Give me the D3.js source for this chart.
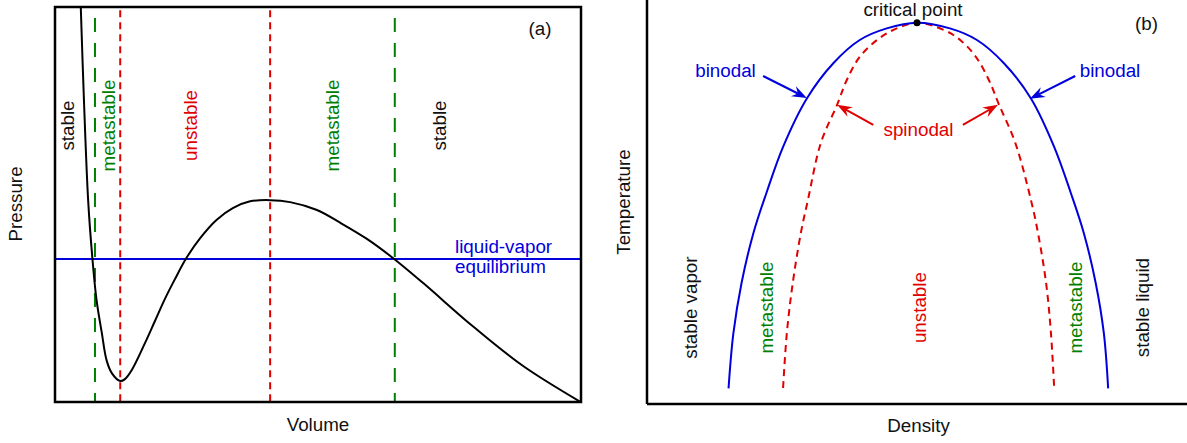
<!DOCTYPE html>
<html>
<head>
<meta charset="utf-8">
<script src="https://cdn.jsdelivr.net/npm/d3@7"></script>
<style>
  body { margin: 0; background: #fff; }
  text { font-family: "Liberation Sans", Arial, sans-serif; font-size: 18.8px; }
</style>
</head>
<body>
<div id="chart"></div>
<script>
// panel (a): van der waals isotherm, volume / pressure in arbitrary units
const isoVolume   = [0.49, 0.55, 0.63, 0.71, 0.79, 0.89, 0.98, 1.08, 1.24, 1.33, 1.46, 1.71, 1.90, 2.09, 2.28, 2.50, 2.76, 3.07, 3.38, 3.71, 4.09, 4.47, 4.98, 5.42, 5.93, 6.43, 7.00, 7.95, 8.90, 9.98];
const isoPressure = [10.0, 7.65, 5.11, 3.65, 2.58, 1.75, 1.06, 0.73, 0.53, 0.58, 0.81, 1.49, 2.05, 2.61, 3.11, 3.65, 4.15, 4.61, 4.91, 5.08, 5.11, 5.06, 4.86, 4.54, 4.13, 3.64, 3.01, 1.91, 0.91, 0.01];
const equilibriumPressure = 3.62;
const binodalVolumes  = [0.76, 6.46];
const spinodalVolumes = [1.24, 4.09];
const regionLabelsA = ["stable", "metastable", "unstable", "metastable", "stable"];
const regionVolumesA = [0.24, 1.02, 2.57, 5.28, 7.30];
const regionColorsA = ["black", "green", "red", "green", "black"];

// panel (b): coexistence curve, density / temperature in arbitrary units
const binodalDensity = [1.51, 1.60, 1.75, 1.97, 2.21, 2.52, 2.96, 3.45, 3.94, 4.44, 5.00, 5.61, 6.11, 6.61, 7.11, 7.54, 7.85, 8.09, 8.31, 8.46, 8.54];
const binodalTemp    = [0.39, 1.77, 3.02, 4.27, 5.27, 6.43, 7.64, 8.52, 9.10, 9.39, 9.53, 9.39, 9.10, 8.52, 7.64, 6.43, 5.27, 4.27, 3.02, 1.77, 0.39];
const spinodalDensity = [2.52, 2.59, 2.70, 2.85, 2.98, 3.22, 3.52, 3.70, 3.94, 4.26, 4.56, 5.00, 5.50, 5.80, 6.09, 6.33, 6.52, 6.82, 7.11, 7.24, 7.39, 7.48, 7.54];
const spinodalTemp    = [0.40, 1.78, 3.03, 4.28, 5.10, 6.53, 7.48, 8.10, 8.68, 9.10, 9.35, 9.53, 9.35, 9.10, 8.68, 8.10, 7.48, 6.53, 5.10, 4.28, 3.03, 1.78, 0.40];
const criticalPoint = [5.00, 9.53];
const regionLabelsB = ["stable vapor", "metastable", "unstable", "metastable", "stable liquid"];
const regionDensityB = [0.81, 2.21, 5.04, 7.94, 9.18];
const regionColorsB = ["black", "green", "red", "green", "black"];
// arrows: [fromDensity, fromTemp, toDensity, toTemp]
const binodalArrows  = [[2.15, 8.20, 2.96, 7.65], [7.93, 8.20, 7.09, 7.63]];
const spinodalArrows = [[4.19, 6.98, 3.52, 7.48], [5.85, 6.98, 6.50, 7.48]];

const colors = {black: "#111", green: "#008000", red: "#e00000", blue: "#0000dd"};

const width = 1187;
const height = 443;

const svg = d3.select("#chart").append("svg")
    .attr("width", width)
    .attr("height", height);

function drawArrow(g, x1, y1, x2, y2, color){
    let ang = Math.atan2(y2 - y1, x2 - x1);
    let len = 15, half = 5.5, notch = 10;
    g.append("line")
        .attr("x1", x1).attr("y1", y1)
        .attr("x2", x2 - notch * Math.cos(ang)).attr("y2", y2 - notch * Math.sin(ang))
        .attr("stroke", color).attr("stroke-width", 2);
    let head = [[0, 0], [-len, -half], [-notch, 0], [-len, half]];
    g.append("path")
        .attr("d", d3.line()(head) + "Z")
        .attr("fill", color)
        .attr("transform", `translate(${x2},${y2}) rotate(${ang * 180 / Math.PI})`);
}

function vText(g, x, y, str, color){
    g.append("text")
        .attr("transform", `translate(${x},${y}) rotate(-90)`)
        .attr("text-anchor", "middle")
        .attr("dy", "0.35em")
        .attr("fill", color)
        .text(str);
}

// ---------- panel (a) ----------
const xA = d3.scaleLinear().domain([0, 10]).range([55, 581]);
const yA = d3.scaleLinear().domain([0, 10]).range([402, 7]);
const gA = svg.append("g");

gA.append("clipPath").attr("id", "clipA")
    .append("rect")
    .attr("x", xA(0)).attr("y", yA(10))
    .attr("width", xA(10) - xA(0)).attr("height", yA(0) - yA(10));

// vertical dashed boundaries
gA.selectAll(".bin").data(binodalVolumes).enter()
    .append("line")
    .attr("x1", (d)=>xA(d)).attr("x2", (d)=>xA(d))
    .attr("y1", yA(9.72)).attr("y2", yA(0))
    .attr("stroke", colors.green).attr("stroke-width", 2)
    .attr("stroke-dasharray", "14,11");

gA.selectAll(".spin").data(spinodalVolumes).enter()
    .append("line")
    .attr("x1", (d)=>xA(d)).attr("x2", (d)=>xA(d))
    .attr("y1", yA(9.92)).attr("y2", yA(0))
    .attr("stroke", colors.red).attr("stroke-width", 2)
    .attr("stroke-dasharray", "7,5");

// equilibrium line
gA.append("line")
    .attr("x1", xA(0)).attr("x2", xA(10))
    .attr("y1", yA(equilibriumPressure)).attr("y2", yA(equilibriumPressure))
    .attr("stroke", colors.blue).attr("stroke-width", 2);

// isotherm
const iso = isoVolume.map((v, i)=>[v, isoPressure[i]]);
gA.append("path")
    .datum(iso)
    .attr("clip-path", "url(#clipA)")
    .attr("fill", "none")
    .attr("stroke", "black")
    .attr("stroke-width", 2)
    .attr("d", d3.line().x((d)=>xA(d[0])).y((d)=>yA(d[1])).curve(d3.curveCatmullRom.alpha(0.5)));

// frame
gA.append("rect")
    .attr("x", xA(0)).attr("y", yA(10))
    .attr("width", xA(10) - xA(0)).attr("height", yA(0) - yA(10))
    .attr("fill", "none").attr("stroke", "black").attr("stroke-width", 2.5);

regionLabelsA.forEach((lab, i)=>{
    vText(gA, xA(regionVolumesA[i]), yA(7.0), lab, colors[regionColorsA[i]]);
});

gA.append("text").attr("x", 455).attr("y", 253).attr("fill", colors.blue).text("liquid-vapor");
gA.append("text").attr("x", 455).attr("y", 273).attr("fill", colors.blue).text("equilibrium");
gA.append("text").attr("x", 540).attr("y", 35).attr("text-anchor", "middle").attr("fill", colors.black).text("(a)");

gA.append("text").attr("x", (xA(0) + xA(10)) / 2).attr("y", 431)
    .attr("text-anchor", "middle").attr("fill", colors.black).text("Volume");
vText(gA, 15, 204, "Pressure", colors.black);

// ---------- panel (b) ----------
const xB = d3.scaleLinear().domain([0, 10]).range([647, 1187]);
const yB = d3.scaleLinear().domain([0, 10]).range([404, 4]);
const gB = svg.append("g");

const line = d3.line().x((d)=>xB(d[0])).y((d)=>yB(d[1])).curve(d3.curveCatmullRom.alpha(0.5));

gB.append("path")
    .datum(spinodalDensity.map((r, i)=>[r, spinodalTemp[i]]))
    .attr("fill", "none")
    .attr("stroke", colors.red)
    .attr("stroke-width", 2)
    .attr("stroke-dasharray", "7,5")
    .attr("d", line);

gB.append("path")
    .datum(binodalDensity.map((r, i)=>[r, binodalTemp[i]]))
    .attr("fill", "none")
    .attr("stroke", colors.blue)
    .attr("stroke-width", 2)
    .attr("d", line);

gB.append("circle")
    .attr("cx", xB(criticalPoint[0])).attr("cy", yB(criticalPoint[1]))
    .attr("r", 3.5).attr("fill", "black");

// axes lines
gB.append("line").attr("x1", xB(0)).attr("x2", xB(0)).attr("y1", 0).attr("y2", yB(0))
    .attr("stroke", "black").attr("stroke-width", 2.5);
gB.append("line").attr("x1", xB(0)).attr("x2", xB(10)).attr("y1", yB(0)).attr("y2", yB(0))
    .attr("stroke", "black").attr("stroke-width", 2.5);

for(let a of binodalArrows){
    drawArrow(gB, xB(a[0]), yB(a[1]), xB(a[2]), yB(a[3]), colors.blue);
}
for(let a of spinodalArrows){
    drawArrow(gB, xB(a[0]), yB(a[1]), xB(a[2]), yB(a[3]), colors.red);
}

gB.append("text").attr("x", 725.5).attr("y", 76.5).attr("text-anchor", "middle").attr("fill", colors.blue).text("binodal");
gB.append("text").attr("x", 1110).attr("y", 76.5).attr("text-anchor", "middle").attr("fill", colors.blue).text("binodal");
gB.append("text").attr("x", 918.5).attr("y", 136).attr("text-anchor", "middle").attr("fill", colors.red).text("spinodal");
gB.append("text").attr("x", 913).attr("y", 16).attr("text-anchor", "middle").attr("fill", colors.black).text("critical point");
gB.append("text").attr("x", 1146.5).attr("y", 29.5).attr("text-anchor", "middle").attr("fill", colors.black).text("(b)");

regionLabelsB.forEach((lab, i)=>{
    vText(gB, xB(regionDensityB[i]), yB(2.41), lab, colors[regionColorsB[i]]);
});

gB.append("text").attr("x", 918.5).attr("y", 432)
    .attr("text-anchor", "middle").attr("fill", colors.black).text("Density");
vText(gB, 623.5, 202, "Temperature", colors.black);
</script>
</body>
</html>
